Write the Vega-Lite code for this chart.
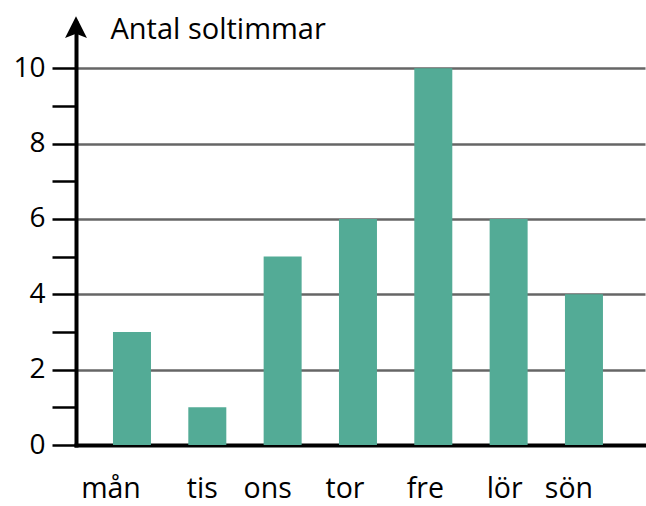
{
  "$schema": "https://vega.github.io/schema/vega-lite/v6.json",
  "width": 569,
  "height": 422,
  "autosize": {"type": "none"},
  "padding": {"left": 76, "top": 23, "right": 1, "bottom": 61},
  "background": "white",
  "config": {"view": {"stroke": null}, "font": "Open Sans"},
  "datasets": {
    "sun": [
      {"dag": "mån", "timmar": 3},
      {"dag": "tis", "timmar": 1},
      {"dag": "ons", "timmar": 5},
      {"dag": "tor", "timmar": 6},
      {"dag": "fre", "timmar": 10},
      {"dag": "lör", "timmar": 6},
      {"dag": "sön", "timmar": 4}
    ],
    "pil": [{"x": 0, "y": 11.09}]
  },
  "layer": [
    {
      "data": {"name": "sun"},
      "mark": {"type": "bar", "color": "#53AB96"},
      "encoding": {
        "x": {
          "field": "dag",
          "type": "nominal",
          "sort": null,
          "scale": {"paddingInner": 0.4956, "paddingOuter": 0.5245, "align": 0.468},
          "axis": {
            "title": null,
            "domainColor": "black",
            "domainWidth": 4,
            "domainCap": "square",
            "ticks": false,
            "tickSize": 0,
            "labelAngle": 0,
            "labelFont": "Open Sans",
            "labelFontSize": 28.5,
            "labelColor": "black",
            "labelBaseline": "alphabetic",
            "labelPadding": 52,
            "labelOffset": {
              "condition": [
                {"test": "datum.value == 'mån'", "value": -21},
                {"test": "datum.value == 'tis'", "value": -5},
                {"test": "datum.value == 'ons'", "value": -15},
                {"test": "datum.value == 'tor'", "value": -13},
                {"test": "datum.value == 'fre'", "value": -8},
                {"test": "datum.value == 'lör'", "value": -4},
                {"test": "datum.value == 'sön'", "value": -15}
              ],
              "value": -10
            }
          }
        },
        "y": {
          "field": "timmar",
          "type": "quantitative",
          "scale": {"domain": [0, 11.2], "nice": false},
          "axis": {
            "values": [0, 1, 2, 3, 4, 5, 6, 7, 8, 9, 10],
            "labelExpr": "datum.value % 2 == 0 ? datum.label : ''",
            "labelFont": "Open Sans",
            "labelFontSize": 28,
            "labelColor": "black",
            "labelPadding": 7,
            "tickSize": 24,
            "tickWidth": 2.5,
            "tickColor": "black",
            "domainColor": "black",
            "domainWidth": 4,
            "domainCap": "square",
            "grid": true,
            "gridWidth": 2.5,
            "gridColor": {
              "condition": {"test": "datum.value % 2 == 1 || datum.value == 0", "value": "transparent"},
              "value": "#666666"
            },
            "title": "Antal soltimmar",
            "titleAngle": 0,
            "titleFont": "Open Sans",
            "titleFontSize": 29,
            "titleFontWeight": "normal",
            "titleColor": "black",
            "titleAlign": "left",
            "titleBaseline": "alphabetic",
            "titleX": 34,
            "titleY": 15
          }
        }
      }
    },
    {
      "data": {"name": "pil"},
      "mark": {
        "type": "point",
        "shape": "M0,-1L1,1L0,0.6L-1,1Z",
        "size": 480,
        "filled": true,
        "color": "black",
        "opacity": 1,
        "clip": false
      },
      "encoding": {
        "x": {"field": "x", "type": "quantitative", "scale": {"domain": [0, 1]}, "axis": null},
        "y": {"field": "y", "type": "quantitative"}
      }
    }
  ],
  "resolve": {"scale": {"x": "independent"}}
}
